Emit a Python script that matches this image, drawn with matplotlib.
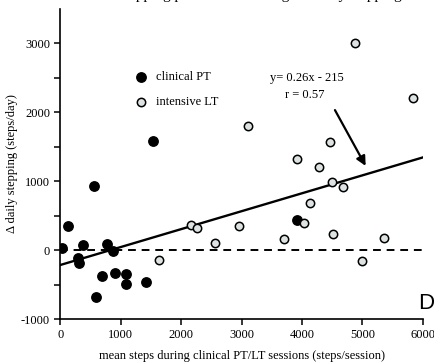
import matplotlib
matplotlib.use("Agg")
import matplotlib.pyplot as plt
import numpy as np

# clinical PT (filled black)
pt_x = [30, 130, 378, 285, 300, 556, 589, 683, 771, 866, 904, 1086, 1086, 1418, 1529, 3917]
pt_y = [33, 353, 73, -110, -185, 935, -678, -378, 83, -10, -330, -341, -494, -470, 1584, 436]

# intensive LT (light grey open)
lt_x = [1639, 2159, 2259, 2562, 2949, 3104, 3695, 3917, 4027, 4127, 4275, 4469, 4497,
        4507, 4680, 4884, 4995, 5353, 5841]
lt_y = [-145, 363, 315, 106, 353, 1807, 155, 1322, 397, 688, 1211, 1575, 993,
        233, 911, 3013, -160, 179, 2205]

slope, intercept = 0.26, -215
fit_x = [0, 6000]

plt.rcParams["font.family"] = ["Liberation Serif", "DejaVu Serif"]

fig = plt.figure(figsize=(4.34, 3.64), dpi=100)
ax = fig.add_axes([0.1394, 0.1236, 0.8346, 0.8517])

ax.plot(fit_x, [0, 0], color="black", lw=1.4, dashes=(4, 3), zorder=1)
ax.plot(fit_x, [slope * x + intercept for x in fit_x], color="black", lw=1.7, zorder=2)

ax.scatter(pt_x, pt_y, s=46, c="black", edgecolors="black", zorder=3, label="clinical PT")
ax.scatter(lt_x, lt_y, s=36, c="#dde3e3", edgecolors="black", linewidths=1.1, zorder=4,
           label="intensive LT")

ax.annotate("", xy=(5077, 1187), xytext=(4524, 2068),
            arrowprops=dict(arrowstyle="-|>", color="black", lw=1.6, mutation_scale=14))
ax.text(4078, 2496, "y= 0.26x - 215", ha="center", va="center", fontsize=9)
ax.text(4050, 2253, "r = 0.57", ha="center", va="center", fontsize=9)

ax.text(5929, -858, "D", fontsize=16, family="Liberation Sans", ha="left", va="baseline",
        clip_on=False)

ax.set_xlim(0, 6000)
ax.set_ylim(-1000, 3500)
ax.set_xticks(np.arange(0, 6001, 1000))
ax.set_yticks(np.arange(-1000, 3001, 1000))
ax.set_yticks(np.arange(-1000, 3001, 500), minor=True)
ax.tick_params(axis="both", which="both", direction="out", width=1.1, labelsize=9)
ax.tick_params(axis="both", which="major", length=4)
ax.tick_params(axis="y", which="minor", length=4)
ax.set_yticklabels(["-1000", "0", "1000", "2000", "3000"])

for side in ("top", "right"):
    ax.spines[side].set_visible(False)
for side in ("left", "bottom"):
    ax.spines[side].set_linewidth(1.2)

ax.set_xlabel("mean steps during clinical PT/LT sessions (steps/session)", fontsize=9, labelpad=6)
ax.set_ylabel("\u0394 daily stepping (steps/day)", fontsize=9, labelpad=2)

ax.legend(loc="upper left", bbox_to_anchor=(0.175, 0.815), frameon=False, fontsize=9,
          handletextpad=0.2, labelspacing=1.0, borderaxespad=0, scatterpoints=1)

# title is cropped at the top edge in the source figure
fig.text(0.6, 1.0 + 1.0 / 364, "stepping practice and change in daily stepping",
         ha="center", va="baseline", fontsize=11)

fig.savefig("out.png", dpi=100)
